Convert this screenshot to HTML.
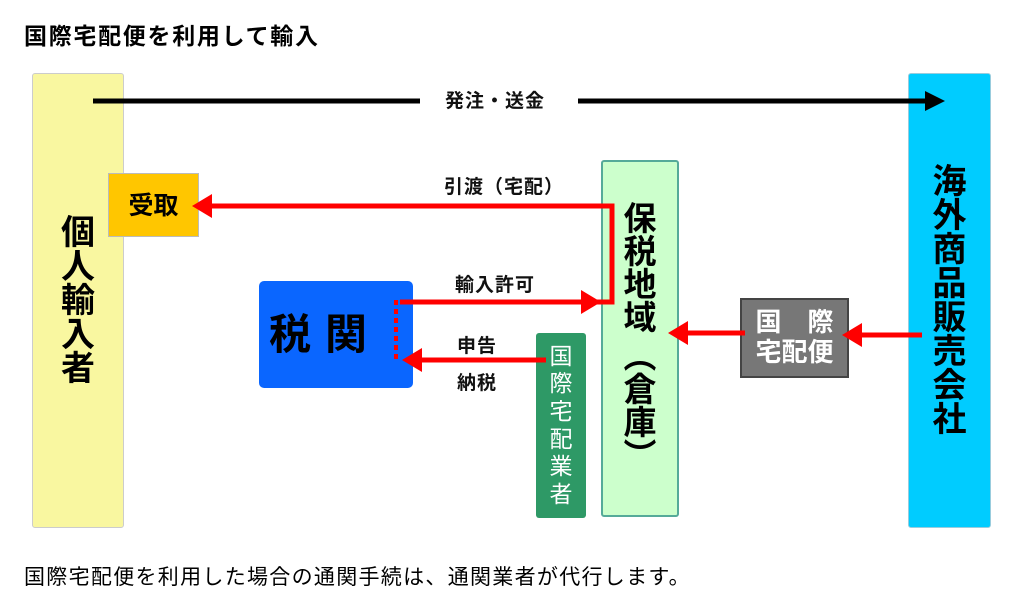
<!DOCTYPE html>
<html><head><meta charset="utf-8"><style>
body{margin:0;width:1022px;height:597px;background:#fff;position:relative;overflow:hidden;font-family:"Liberation Sans","Noto Sans CJK JP",sans-serif;}
.a{position:absolute;}
.v{display:flex;flex-direction:column;align-items:center;justify-content:center;font-weight:bold;line-height:1;}
.lbl{position:absolute;font-weight:bold;font-size:19px;color:#111;white-space:nowrap;letter-spacing:1px;}
</style></head><body>
<div class="a" style="left:24px;top:17px;font-size:23px;font-weight:bold;letter-spacing:1.7px;">国際宅配便を利用して輸入</div>

<div class="a v" style="left:32px;top:73px;width:90px;height:453px;background:#f9f7a0;border:1px solid #ccc;border-radius:3px;font-size:34px;">
<span>個</span><span>人</span><span>輸</span><span>入</span><span>者</span></div>

<div class="a v" style="left:908px;top:73px;width:81px;height:453px;background:#00ccff;border:1px solid #9cd;border-radius:3px;font-size:34px;">
<span>海</span><span>外</span><span>商</span><span>品</span><span>販</span><span>売</span><span>会</span><span>社</span></div>

<div class="a" style="left:108px;top:173px;width:91px;height:64px;background:#ffc600;border:1px solid #bbb;font-size:25px;font-weight:bold;line-height:64px;text-align:center;box-sizing:border-box;">受取</div>

<div class="a v" style="left:601px;top:160px;width:78px;height:357px;background:#ccffcc;border:2px solid #5a9;border-radius:3px;box-sizing:border-box;font-size:33px;justify-content:flex-start;padding-top:40px;">
<span>保</span><span>税</span><span>地</span><span>域</span><span style="margin-top:6px;">︵</span><span>倉</span><span>庫</span><span>︶</span></div>

<div class="a" style="left:259px;top:281px;width:154px;height:107px;background:#0a66ff;border-radius:5px;font-size:42px;font-weight:bold;line-height:107px;text-align:center;letter-spacing:14px;padding-right:22px;box-sizing:border-box;">税関</div>

<div class="a v" style="left:536px;top:333px;width:50px;height:185px;background:#2e9966;border-radius:3px;color:#fff;font-weight:normal;font-size:23px;line-height:1.2;">
<span>国</span><span>際</span><span>宅</span><span>配</span><span>業</span><span>者</span></div>

<div class="a" style="left:740px;top:298px;width:109px;height:80px;background:#777;border:2px solid #444;box-sizing:border-box;color:#fff;font-weight:bold;font-size:26px;line-height:30px;text-align:center;padding-top:7px;">国　際<br>宅配便</div>

<svg class="a" style="left:0;top:0" width="1022" height="597">
<line x1="93" y1="101" x2="420" y2="101" stroke="#000" stroke-width="5"/>
<line x1="578" y1="101" x2="930" y2="101" stroke="#000" stroke-width="5"/>
<polygon points="945,101 925,91 925,111" fill="#000"/>
<polyline points="210,206 612,206 612,302 590,302" fill="none" stroke="#f00" stroke-width="5"/>
<polygon points="192,206 212,194 212,218" fill="#f00"/>
<line x1="400" y1="302" x2="590" y2="302" stroke="#f00" stroke-width="5"/>
<polygon points="601,302 581,290 581,314" fill="#f00"/>
<line x1="396" y1="300" x2="396" y2="362" stroke="#f00" stroke-width="4" stroke-dasharray="5,4"/>
<line x1="415" y1="360" x2="546" y2="360" stroke="#f00" stroke-width="5"/>
<polygon points="402,360 422,348 422,372" fill="#f00"/>
<line x1="686" y1="333" x2="745" y2="333" stroke="#f00" stroke-width="5"/>
<polygon points="668,333 688,321 688,345" fill="#f00"/>
<line x1="860" y1="335" x2="922" y2="335" stroke="#f00" stroke-width="5"/>
<polygon points="842,335 862,323 862,347" fill="#f00"/>
</svg>

<div class="lbl" style="left:445px;top:86px;">発注・送金</div>
<div class="lbl" style="left:444px;top:172px;">引渡（宅配）</div>
<div class="lbl" style="left:455px;top:270px;">輸入許可</div>
<div class="lbl" style="left:457px;top:331px;">申告</div>
<div class="lbl" style="left:457px;top:368px;">納税</div>

<div class="a" style="left:24px;top:561px;font-size:21px;letter-spacing:1.3px;">国際宅配便を利用した場合の通関手続は、通関業者が代行します。</div>
</body></html>
